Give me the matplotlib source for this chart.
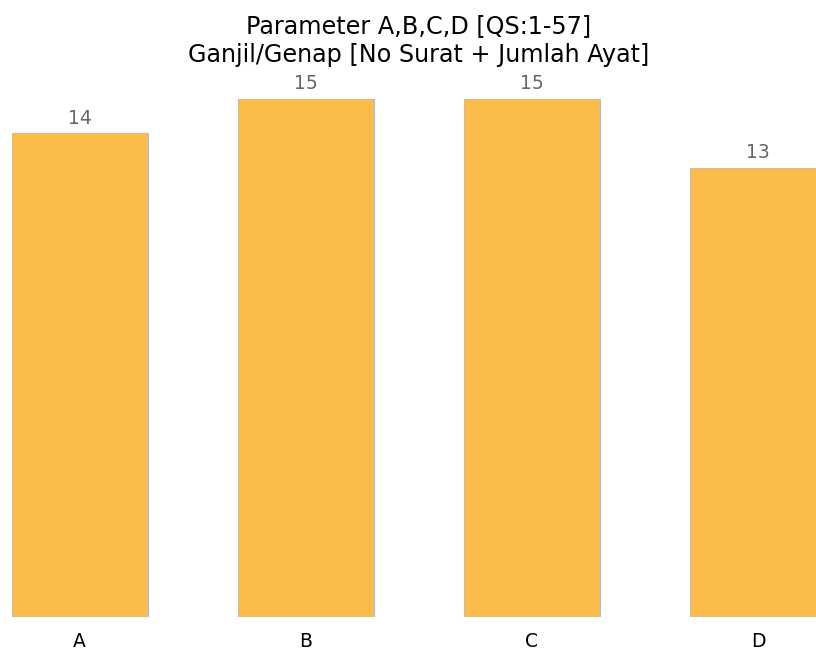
import matplotlib
matplotlib.use("Agg")
import matplotlib.pyplot as plt

categories = ["A", "B", "C", "D"]
values = [14, 15, 15, 13]
title_text = "Parameter A,B,C,D [QS:1-57]\nGanjil/Genap [No Surat + Jumlah Ayat]"

W, H = 816, 649
fig = plt.figure(figsize=(W / 100, H / 100), dpi=100)
ax = fig.add_axes([0, 32 / H, 1, 544 / H])
x = list(range(len(categories)))
bars = ax.bar(x, values, width=0.6, color="#FBBC4C", edgecolor="#BDBDBD", linewidth=0.8)
ax.set_xlim(-0.353, 3.257)
ax.set_ylim(0, 15.75)
for s in ax.spines.values():
    s.set_visible(False)
ax.set_yticks([])
ax.set_xticks(x)
ax.set_xticklabels(categories, fontsize=13.5)
ax.tick_params(axis="x", length=0, pad=10.5)
for b, v in zip(bars, values):
    ax.annotate(str(v), (b.get_x() + b.get_width() / 2, v), xytext=(0, 4),
                textcoords="offset points", ha="center", va="bottom",
                fontsize=13.5, color="#666666")
ax.annotate(title_text, (1.5, 1.0), xycoords=ax.get_xaxis_transform(),
            xytext=(0, 4), textcoords="offset points", ha="center",
            va="bottom", fontsize=17.2, linespacing=1.3)
fig.savefig("out.png", dpi=100)
